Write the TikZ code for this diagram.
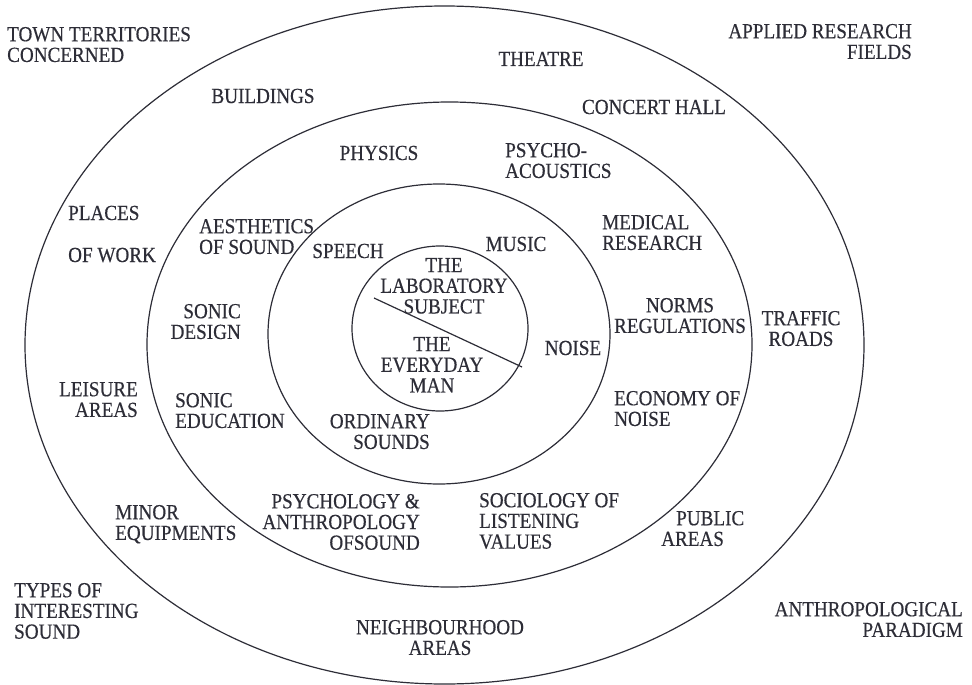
\documentclass[tikz,border=0pt]{standalone}
\usepackage{fontspec}
\setmainfont{Liberation Serif}[FakeStretch=0.89,FakeBold=0.4]
\definecolor{ink}{RGB}{45,45,55}
\begin{document}
\begin{tikzpicture}[x=1pt,y=-1pt,
  ring/.style={draw=ink,line width=1.2pt},
  lbl/.style={inner sep=0pt,text=ink,font=\fontsize{21.5}{20.7}\selectfont},
  lblc/.style={lbl,align=center},
  lbll/.style={lbl,align=left},
  lblr/.style={lbl,align=right}]
\useasboundingbox (0,0) rectangle (972,685);
\fill[white] (0,0) rectangle (972,685);
% rings
\draw[ring] (444.5,345) ellipse [x radius=419.5, y radius=339];
\draw[ring] (449.5,344.5) ellipse [x radius=302.5, y radius=242.5];
\draw[ring] (439,334) ellipse [x radius=171, y radius=150];
\draw[ring] (440,328.5) ellipse [x radius=88, y radius=82.5];
\coordinate (d1) at (374,298);
\coordinate (d2) at (522,367);
\draw[ring] (d1) -- (d2);
% outer corner labels
\node[lbll,anchor=north west] (town) at (7,26.8) {TOWN TERRITORIES\\CONCERNED};
\node[lblr,anchor=north east] (applied) at (912,23.8) {APPLIED RESEARCH\\FIELDS};
\node[lbll,anchor=north west] (types) at (14,582.8) {TYPES OF\\INTERESTING\\SOUND};
\node[lblr,anchor=north east] (anthro) at (963,601.8) {ANTHROPOLOGICAL\\PARADIGM};
% outer ring
\node[lbl,anchor=base] (theatre) at (541,66) {THEATRE};
\node[lbl,anchor=base] (concert) at (654,114) {CONCERT HALL};
\node[lbl,anchor=base] (buildings) at (263,103) {BUILDINGS};
\node[lbl,anchor=base west] (places) at (68,220) {PLACES};
\node[lbl,anchor=base west] (ofwork) at (68,262) {OF WORK};
\node[lblc,anchor=north] (traffic) at (801,310.8) {TRAFFIC\\ROADS};
\node[lblr,anchor=north east] (leisure) at (138,381.8) {LEISURE\\AREAS};
\node[lbll,anchor=north west] (minor) at (115,504.8) {MINOR\\EQUIPMENTS};
\node[lbll,anchor=north west] (public) at (661,510.8) {\hspace*{15pt}PUBLIC\\AREAS};
\node[lblc,anchor=north] (neigh) at (440,619.8) {NEIGHBOURHOOD\\AREAS};
% middle ring
\node[lbl,anchor=base] (physics) at (379,160) {PHYSICS};
\node[lbll,anchor=north west] (psycho) at (505,142.8) {PSYCHO-\\ACOUSTICS};
\node[lbll,anchor=north west] (aesth) at (199,218.8) {AESTHETICS\\OF SOUND};
\node[lbll,anchor=north west] (medical) at (602,214.8) {MEDICAL\\RESEARCH};
\node[lblc,anchor=north] (norms) at (680,297.8) {NORMS\\REGULATIONS};
\node[lblr,anchor=north east] (design) at (241,303.8) {SONIC\\DESIGN};
\node[lbll,anchor=north west] (educ) at (175,392.8) {SONIC\\EDUCATION};
\node[lbll,anchor=north west] (economy) at (614,390.8) {ECONOMY OF\\NOISE};
\node[lblr,anchor=north east] (psychol) at (420,493.8) {PSYCHOLOGY \&\\ANTHROPOLOGY\\OFSOUND};
\node[lbll,anchor=north west] (socio) at (479,492.8) {SOCIOLOGY OF\\LISTENING\\VALUES};
% inner ring
\node[lbl,anchor=base] (speech) at (348,258) {SPEECH};
\node[lbl,anchor=base] (music) at (516,251) {MUSIC};
\node[lbl,anchor=base] (noise) at (573,355) {NOISE};
\node[lblr,anchor=north east] (ordinary) at (430,413.8) {ORDINARY\\SOUNDS};
% core
\node[lblc,anchor=north] (lab) at (444,257.8) {THE\\LABORATORY\\SUBJECT};
\node[lblc,anchor=north] (every) at (432,336.8) {THE\\EVERYDAY\\MAN};
\end{tikzpicture}
\end{document}
